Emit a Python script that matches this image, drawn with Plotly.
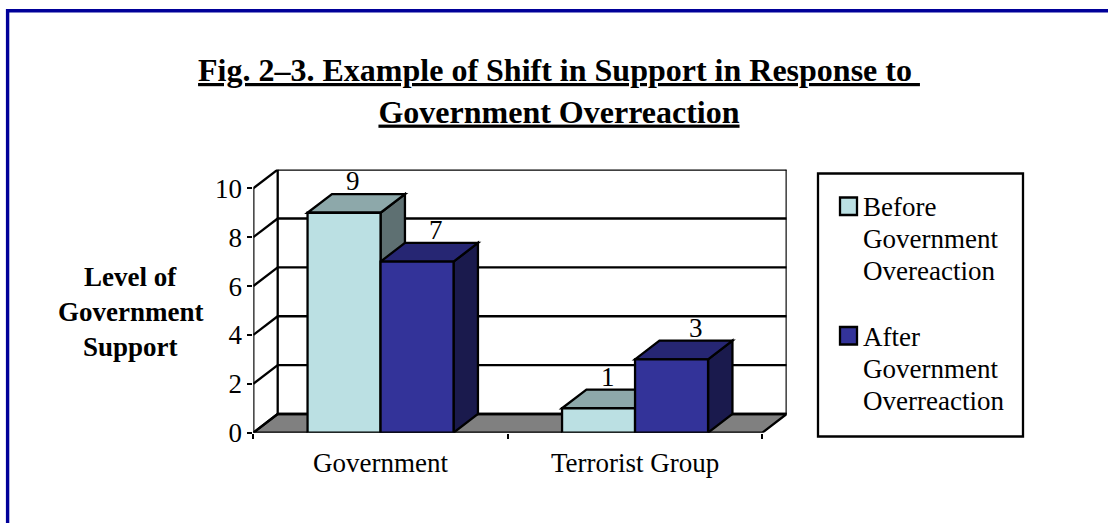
import plotly.graph_objects as go

# ---- data ----
categories = ["Government", "Terrorist Group"]
before_values = [9, 1]
after_values = [7, 3]
y_ticks = [0, 2, 4, 6, 8, 10]
series_names = ["Before Government Overeaction", "After Government Overreaction"]
legend_lines = [["Before", "Government", "Overeaction"], ["After", "Government", "Overreaction"]]

# ---- layout constants (pixels) ----
W, H = 1108, 523
X0, Y0 = 253.3, 432.7          # front-left-bottom corner
GROUP_PX, UNIT_PX = 254.5, 24.44
DX_PX, DY_PX = 24.4, 18.7      # depth offset
BAR_PX = 73
FONT = "Liberation Serif"
FS = 27
LIGHT, LIGHT_TOP, LIGHT_SIDE = "#BBE0E3", "#8DA8AA", "#5E7072"
DARK, DARK_TOP, DARK_SIDE = "#333399", "#262673", "#1A1A4D"
NAVY = "#000099"
LW = 2.3

DX, DY = DX_PX / GROUP_PX, DY_PX / UNIT_PX
BW = BAR_PX / GROUP_PX
NG = len(categories)
x_max = NG + DX
y_max = 10 + DY
centers = [i + 0.5 for i in range(NG)]


def px(x):
    return x / W


def py(y):
    return 1 - y / H


def poly(points, fill=None):
    path = "M " + " L ".join(f"{a},{b}" for a, b in points) + " Z"
    return dict(type="path", path=path, xref="x", yref="y", layer="below",
                fillcolor=fill or "rgba(0,0,0,0)", line=dict(color="black", width=LW))


def seg(a, b, c, d):
    return dict(type="line", x0=a, y0=b, x1=c, y1=d, xref="x", yref="y", layer="below",
                line=dict(color="black", width=LW))


shapes = []
# floor
shapes.append(poly([(0, 0), (DX, DY), (NG + DX, DY), (NG, 0)], "#808080"))
# walls and gridlines
shapes.append(seg(0, 0, 0, 10))
shapes.append(seg(DX, DY, DX, 10 + DY))
shapes.append(seg(NG + DX, DY, NG + DX, 10 + DY))
for v in y_ticks:
    shapes.append(seg(0, v, DX, v + DY))
    shapes.append(seg(DX, v + DY, NG + DX, v + DY))
# top and side faces of every bar, back to front
for i, c in enumerate(centers):
    for vals, off, top, side in ((before_values, -BW, LIGHT_TOP, LIGHT_SIDE),
                                 (after_values, 0, DARK_TOP, DARK_SIDE)):
        l, r, v = c + off, c + off + BW, vals[i]
        shapes.append(poly([(r, 0), (r + DX, DY), (r + DX, v + DY), (r, v)], side))
        shapes.append(poly([(l, v), (l + DX, v + DY), (r + DX, v + DY), (r, v)], top))

# outer frame (runs off the right and bottom of the picture)
frame = dict(xref="paper", yref="paper", line=dict(color=NAVY, width=3.4))
shapes.append(dict(type="line", x0=px(7.6), y0=py(9), x1=px(7.6), y1=0, **frame))
shapes.append(dict(type="line", x0=px(6), y0=py(10.7), x1=1, y1=py(10.7), **frame))
# legend box and swatches
shapes.append(dict(type="rect", x0=px(818), x1=px(1023), y0=py(173.5), y1=py(436.5),
                   xref="paper", yref="paper", line=dict(color="black", width=LW)))
swatch_tops = [197.5, 327]
for top, col in zip(swatch_tops, (LIGHT, DARK)):
    shapes.append(dict(type="rect", x0=px(840), x1=px(857), y0=py(top), y1=py(top + 17.5),
                       xref="paper", yref="paper", fillcolor=col,
                       line=dict(color="black", width=LW)))

fig = go.Figure()
for name, vals, col in zip(series_names, (before_values, after_values), (LIGHT, DARK)):
    fig.add_trace(go.Bar(x=centers, y=vals, name=name, marker=dict(color=col, line=dict(color="black", width=LW)),
                         showlegend=False, hoverinfo="x+y+name"))

annotations = []


def text(x, base, s, anchor="left", bold=False):
    annotations.append(dict(x=px(x), y=py(base + 8.3), xref="paper", yref="paper", text=f"<b>{s}</b>" if bold else s,
                            showarrow=False, xanchor=anchor, yanchor="bottom",
                            font=dict(family=FONT, size=FS, color="black"), borderpad=0, borderwidth=0))


# legend text
baselines = [[214, 246, 278], [344, 376, 408]]
for lines, bases in zip(legend_lines, baselines):
    for s, b in zip(lines, bases):
        text(863.3, b, s)

# y-axis caption
for s, b in zip(["Level of", "Government", "Support"], [284, 319, 354]):
    text(130, b, s, anchor="center", bold=True)

# data labels
label_xshift = [[-15, -5], [-15, 0]]
for i, c in enumerate(centers):
    for j, (vals, off) in enumerate(((before_values, -BW / 2), (after_values, BW / 2))):
        annotations.append(dict(x=c + off + DX, y=vals[i] + DY, xref="x", yref="y", text=str(vals[i]),
                                showarrow=False, xanchor="center", yanchor="bottom",
                                xshift=label_xshift[i][j], yshift=-4,
                                font=dict(family=FONT, size=FS, color="black")))

fig.update_layout(
    width=W, height=H, margin=dict(l=0, r=0, t=0, b=0, pad=0), autosize=False,
    paper_bgcolor="white", plot_bgcolor="rgba(0,0,0,0)",
    barmode="group", bargap=1 - 2 * BW, bargroupgap=0,
    font=dict(family=FONT, size=FS, color="black"),
    title=dict(text="<b><u>Fig. 2–3. Example of Shift in Support in Response to&nbsp;</u></b><br>"
                    "<b><u>Government Overreaction</u></b>",
               x=559 / W, xanchor="center", xref="paper", y=1 - 81 / H, yanchor="top", yref="paper",
               automargin=False, font=dict(family=FONT, size=32, color="black")),
    xaxis=dict(domain=[px(X0), px(X0 + NG * GROUP_PX + DX_PX)], range=[0, x_max], showgrid=False, zeroline=False,
               automargin=False, showline=False, tickmode="array", tickvals=centers, ticktext=categories,
               ticks="outside", ticklen=6, tickcolor="rgba(0,0,0,0)", tickwidth=1,
               minor=dict(tickmode="array", tickvals=list(range(NG + 1)), ticks="outside", ticklen=5,
                          tickcolor="black", tickwidth=LW, showgrid=False),
               tickfont=dict(family=FONT, size=FS, color="black")),
    yaxis=dict(domain=[py(Y0), py(Y0 - y_max * UNIT_PX)], range=[0, y_max], showgrid=False, zeroline=False,
               automargin=False, showline=False, tickmode="array", tickvals=y_ticks, ticks="outside", ticklen=5,
               tickwidth=LW, tickcolor="black", tickfont=dict(family=FONT, size=FS, color="black")),
    shapes=shapes, annotations=annotations, showlegend=False,
)

fig.write_html("out.html", config=dict(displayModeBar=False),
               post_script="document.body.style.margin='0';document.body.style.overflow='hidden';")
